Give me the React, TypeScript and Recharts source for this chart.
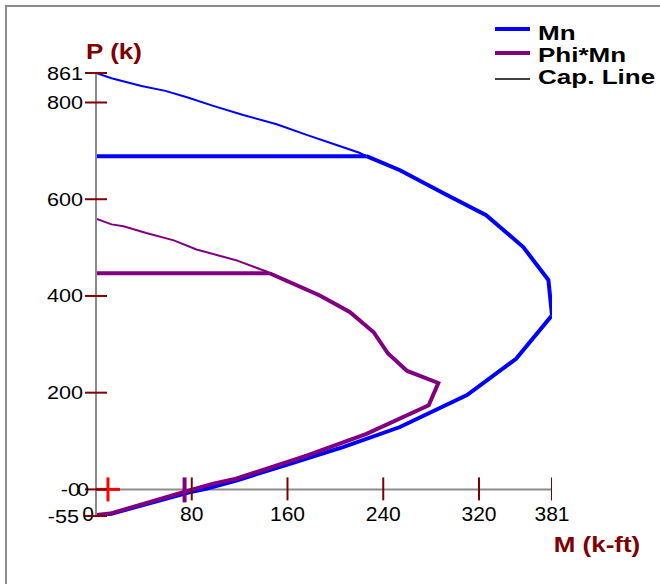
import React from "react";
import {
  ComposedChart,
  Line,
  Scatter,
  XAxis,
  YAxis,
  ReferenceLine,
  Legend,
  Label,
} from "recharts";

// ---- data (M in k-ft, P in kips) ----
const mnAboveCap = [
  { m: 0, p: 861 }, { m: 13, p: 850 }, { m: 38, p: 834 }, { m: 58, p: 824 },
  { m: 76, p: 811 }, { m: 98, p: 793 }, { m: 123, p: 774 }, { m: 151, p: 755 },
  { m: 176, p: 733 }, { m: 201, p: 712 }, { m: 220, p: 696 }, { m: 226, p: 689 },
];
const mnCap = [{ m: 0, p: 689 }, { m: 226, p: 689 }];
const mnBody = [
  { m: 226, p: 689 }, { m: 254, p: 660 }, { m: 290, p: 613 }, { m: 326, p: 567 },
  { m: 357, p: 501 }, { m: 378, p: 433 }, { m: 381, p: 360 }, { m: 351, p: 270 },
  { m: 310, p: 195 }, { m: 254, p: 129 }, { m: 207, p: 88 }, { m: 162, p: 53 },
  { m: 118, p: 19 }, { m: 92, p: 1 }, { m: 78, p: -6 }, { m: 9, p: -53 },
  { m: 0, p: -55 },
];
const phiAboveCap = [
  { m: 0, p: 560 }, { m: 13, p: 548 }, { m: 23, p: 544 }, { m: 42, p: 530 },
  { m: 65, p: 515 }, { m: 84, p: 496 }, { m: 117, p: 474 }, { m: 143, p: 450 },
  { m: 145, p: 447 },
];
const phiCap = [{ m: 0, p: 447 }, { m: 145, p: 447 }];
const phiBody = [
  { m: 145, p: 447 }, { m: 187, p: 401 }, { m: 212, p: 367 }, { m: 232, p: 325 },
  { m: 244, p: 281 }, { m: 260, p: 245 }, { m: 286, p: 220 }, { m: 278, p: 174 },
  { m: 226, p: 115 }, { m: 176, p: 70 }, { m: 117, p: 22 }, { m: 98, p: 12 },
  { m: 78, p: -2 }, { m: 12, p: -50 }, { m: 0, p: -53 },
];
const loadMarker = [{ m: 10, p: 0 }];
const phiZeroMarker = [{ m: 74, p: 0 }];

const xTicks = [0, 80, 160, 240, 320, 381];
const yTicks = [861, 800, 600, 400, 200, 0, -55];
const xTickMarks = xTicks.filter((t) => t !== 0).map((t) => ({ m: t, p: 0 }));

const legendItems = [
  { label: "Mn", color: "#0000FF", width: 4 },
  { label: "Phi*Mn", color: "#800080", width: 4 },
  { label: "Cap. Line", color: "#000000", width: 1.5 },
];

const FONT = "Arial, 'Liberation Sans', Helvetica, sans-serif";
const DARKRED = "#800000";
const AXIS = "#8c8c8c";
const BLUE = "#0000FF";
const PURPLE = "#800080";

const YTick = (props: any) => {
  const { x, y, payload } = props;
  const v = payload.value;
  const s = 1.2;
  const txt = (label: string, end: number) => (
    <g transform={`scale(${s},1)`}>
      <text x={end / s} y={6.5} textAnchor="end" fontSize={18} fontFamily={FONT} fill="#000">
        {label}
      </text>
    </g>
  );
  return (
    <g transform={`translate(${x},${y})`}>
      <line x1={-11} x2={11} y1={0} y2={0} stroke={DARKRED} strokeWidth={2} />
      {v === 0 ? (
        <>
          {txt("-0", -16)}
          {txt("0", -7)}
        </>
      ) : (
        txt(String(v), v < 0 ? -17 : -13)
      )}
    </g>
  );
};

const XTick = (props: any) => {
  const { x, y, payload } = props;
  const v = payload.value;
  return (
    <text
      x={x + (v === 0 ? -8 : 0)}
      y={y + 5}
      textAnchor="middle"
      fontSize={21}
      fontFamily={FONT}
      fill="#000"
    >
      {v}
    </text>
  );
};

const YTitle = (props: any) => {
  const vb = props.viewBox || { x: 36, y: 73, width: 60, height: 440 };
  const cx = vb.x + vb.width + 18;
  const cy = vb.y - 14;
  return (
    <g transform={`translate(${cx},${cy}) scale(1.18,1)`}>
      <text x={0} y={0} textAnchor="middle" fontSize={22} fontWeight="bold" fontFamily={FONT} fill={DARKRED}>
        P (k)
      </text>
    </g>
  );
};

const XTitle = (props: any) => {
  const vb = props.viewBox || { x: 96, y: 515, width: 456, height: 30 };
  const cx = vb.x + vb.width + 45;
  const cy = vb.y + 36;
  return (
    <g transform={`translate(${cx},${cy}) scale(1.18,1)`}>
      <text x={0} y={0} textAnchor="middle" fontSize={22} fontWeight="bold" fontFamily={FONT} fill={DARKRED}>
        M (k-ft)
      </text>
    </g>
  );
};

const LegendBox = () => {
  const lineYs = [15, 39, 65];
  const textYs = [25.5, 47.5, 69.5];
  return (
    <svg width={172} height={80}>
      {legendItems.map((it, i) => (
        <g key={it.label}>
          <line x1={7} x2={42} y1={lineYs[i]} y2={lineYs[i]} stroke={it.color} strokeWidth={it.width} />
          <g transform={`translate(50,${textYs[i]}) scale(1.24,1)`}>
            <text x={0} y={0} fontSize={21} fontWeight="bold" fontFamily={FONT} fill="#000">
              {it.label}
            </text>
          </g>
        </g>
      ))}
    </svg>
  );
};

const plusShape = (props: any) => {
  const { cx, cy } = props;
  return (
    <g>
      <line x1={cx} x2={cx} y1={cy - 12} y2={cy + 12} stroke="#FF0000" strokeWidth={3} />
      <line x1={cx - 12} x2={cx + 12} y1={cy} y2={cy} stroke="#FF0000" strokeWidth={3} />
    </g>
  );
};

const barShape = (props: any) => {
  const { cx, cy } = props;
  return <line x1={cx} x2={cx} y1={cy - 12} y2={cy + 13} stroke={PURPLE} strokeWidth={4} />;
};

const tickShape = (props: any) => {
  const { cx, cy } = props;
  return <line x1={cx} x2={cx} y1={cy - 12} y2={cy + 11} stroke={DARKRED} strokeWidth={2} />;
};

export default function App() {
  return (
    <div
      style={{
        position: "absolute",
        left: 0,
        top: 0,
        width: 660,
        height: 584,
        overflow: "hidden",
        background: "#fff",
      }}
    >
      <div
        style={{
          position: "absolute",
          left: 5,
          top: 5,
          width: 800,
          height: 800,
          border: `2px solid ${AXIS}`,
        }}
      />
      <div style={{ position: "absolute", left: 0, top: 0 }}>
        <ComposedChart
          width={660}
          height={584}
          margin={{ top: 73, right: 108, bottom: 38, left: 36 }}
        >
          <XAxis
            type="number"
            dataKey="m"
            domain={[0, 381]}
            ticks={xTicks}
            interval={0}
            allowDataOverflow
            axisLine={false}
            tickLine={false}
            tickSize={0}
            tickMargin={0}
            height={30}
            tick={<XTick />}
          >
            <Label content={<XTitle />} />
          </XAxis>
          <YAxis
            type="number"
            dataKey="p"
            domain={[-55, 861]}
            ticks={yTicks}
            interval={0}
            allowDataOverflow
            axisLine={{ stroke: AXIS, strokeWidth: 2 }}
            tickLine={false}
            tickSize={0}
            tickMargin={0}
            width={60}
            tick={<YTick />}
          >
            <Label content={<YTitle />} />
          </YAxis>
          <ReferenceLine y={0} stroke={AXIS} strokeWidth={2} />
          <Line data={mnAboveCap} dataKey="p" stroke={BLUE} strokeWidth={2} dot={false} activeDot={false} isAnimationActive={false} legendType="none" />
          <Line data={mnCap} dataKey="p" stroke={BLUE} strokeWidth={4} dot={false} activeDot={false} isAnimationActive={false} legendType="none" />
          <Line data={mnBody} dataKey="p" stroke={BLUE} strokeWidth={4} dot={false} activeDot={false} isAnimationActive={false} legendType="none" />
          <Line data={phiAboveCap} dataKey="p" stroke={PURPLE} strokeWidth={2} dot={false} activeDot={false} isAnimationActive={false} legendType="none" />
          <Line data={phiCap} dataKey="p" stroke={PURPLE} strokeWidth={4} dot={false} activeDot={false} isAnimationActive={false} legendType="none" />
          <Line data={phiBody} dataKey="p" stroke={PURPLE} strokeWidth={4} dot={false} activeDot={false} isAnimationActive={false} legendType="none" />
          <Scatter data={xTickMarks} dataKey="p" shape={tickShape} isAnimationActive={false} legendType="none" />
          <Scatter data={phiZeroMarker} dataKey="p" shape={barShape} isAnimationActive={false} legendType="none" />
          <Scatter data={loadMarker} dataKey="p" shape={plusShape} isAnimationActive={false} legendType="none" />
          <Legend
            layout="horizontal"
            verticalAlign="middle"
            align="center"
            wrapperStyle={{ position: "absolute", left: 488, top: 14, width: 172, height: 80 }}
            content={() => <LegendBox />}
          />
        </ComposedChart>
      </div>
    </div>
  );
}
